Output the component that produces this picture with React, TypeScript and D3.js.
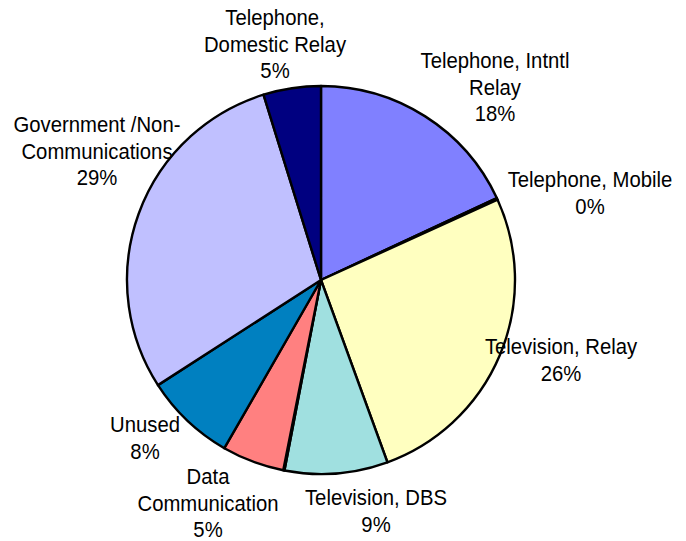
import React from "react";
import * as d3 from "d3";

// Categories in clockwise order from 12 o'clock
const categories: string[] = [
  "Telephone, Intntl\nRelay",
  "Telephone, Mobile",
  "Television, Relay",
  "Television, DBS",
  "",
  "Data\nCommunication",
  "Unused",
  "Government /Non-\nCommunications",
  "Telephone,\nDomestic Relay",
];
const shares: number[] = [18.1, 0.15, 26.3, 8.6, 0.1, 5.2, 7.6, 29.4, 4.8];
const colors: string[] = [
  "#8080FF", "#802060", "#FFFFC0", "#A0E0E0", "#600080",
  "#FF8080", "#0080C0", "#C0C0FF", "#000080",
];

// Layout: label anchor (centre x, first baseline y)
const labelAnchors: [number, number][] = [
  [495, 68], [590, 187], [561, 354], [376, 505], [0, 0],
  [208, 484], [145, 432], [97, 132], [275, 25],
];

const W = 686, H = 541;
const CX = 321, CY = 280, R = 194;
const LINE = 26.5;

export default function App() {
  const total = d3.sum(shares);
  const pie = d3.pie<number>().sort(null).value((d) => d);
  const arcs = pie(shares);
  const arc = d3.arc<d3.PieArcDatum<number>>().innerRadius(0).outerRadius(R);
  const fmt = d3.format(".0%");

  return (
    <svg
      width={W}
      height={H}
      style={{ position: "absolute", left: 0, top: 0, background: "#fff" }}
      fontFamily="'Liberation Sans', Arial, sans-serif"
    >
      <rect width={W} height={H} fill="#fff" />
      <g transform={`translate(${CX},${CY})`}>
        {arcs.map((a, i) => (
          <path
            key={i}
            d={arc(a) || ""}
            fill={colors[i]}
            stroke="#000"
            strokeWidth={2.4}
            strokeLinejoin="round"
          />
        ))}
      </g>
      {categories.map((name, i) => {
        if (!name) return null;
        const lines = name.split("\n").concat([fmt(Math.round((shares[i] / total) * 100) / 100)]);
        const [x, y] = labelAnchors[i];
        return (
          <g key={"l" + i}>
            {lines.map((t, j) => (
              <text
                key={j}
                transform={`translate(${x},${y + j * LINE}) scale(1,1.1)`}
                textAnchor="middle"
                fontSize={20.3}
                fill="#000"
              >
                {t}
              </text>
            ))}
          </g>
        );
      })}
    </svg>
  );
}
